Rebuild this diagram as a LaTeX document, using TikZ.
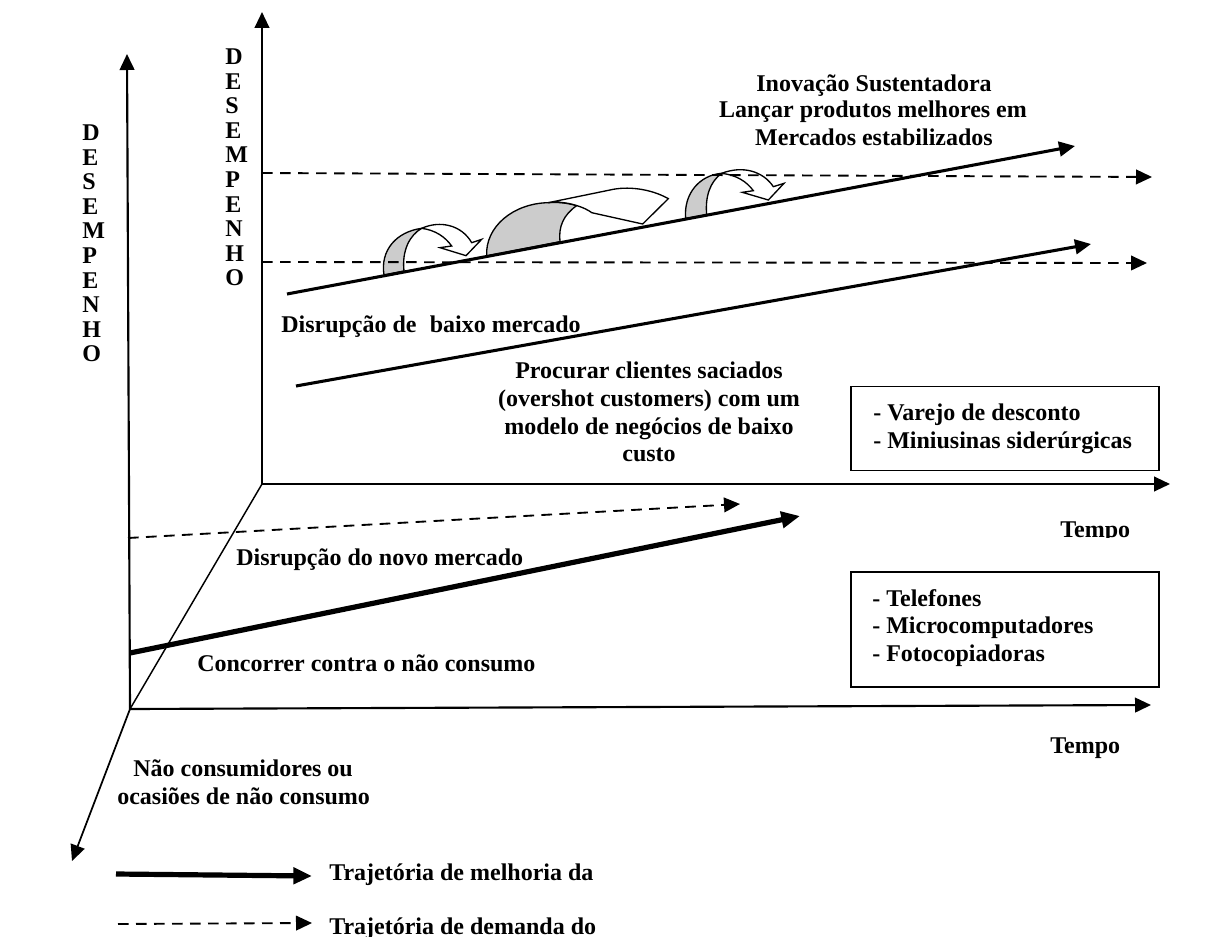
\documentclass[tikz,border=0pt]{standalone}
\usepackage{fontspec}
\setmainfont{Liberation Serif}
\usetikzlibrary{arrows.meta}
\tikzset{
  axisline/.style={line width=1.6pt,-{Triangle[length=12pt,width=11pt]}},
  thinline/.style={line width=1.1pt},
  sustline/.style={line width=2.3pt,-{Triangle[length=12pt,width=11pt]}},
  heavyline/.style={line width=3.9pt,-{Triangle[length=14pt,width=12pt]}},
  dashline/.style={line width=1.4pt,dash pattern=on 8pt off 5.5pt,-{Triangle[length=12pt,width=11pt]}},
  txt/.style={inner sep=0pt,font=\bfseries\fontsize{13pt}{14pt}\selectfont,text=black},
  lbl/.style={txt,anchor=base west},
  ctr/.style={txt,anchor=base},
  casebox/.style={draw=black,line width=1.2pt,fill=none,inner sep=0pt},
  bandshape/.style={draw=black,line width=1pt,fill=black!20},
  bendshape/.style={draw=black,line width=1pt,fill=white,line join=miter},
}
\newcommand{\cliplbl}[5]{\begin{scope}\clip (#2-20,#3-30) rectangle (#2+400,#4);\node[lbl] (#1) at (#2,#3) {#5};\end{scope}}
\begin{document}
\begin{tikzpicture}[x=0.75pt,y=-0.75pt]
\useasboundingbox (0,0) rectangle (1212,942);
\tikzset{txt/.append style={font=\bfseries\fontsize{18pt}{20pt}\selectfont}}
% named end points
\coordinate (oa) at (130,709);
\coordinate (ob) at (262,484);
\coordinate (oay) at (127,54);
\coordinate (oax) at (1151,705);
\coordinate (oaz) at (72,861);
\coordinate (oby) at (262,12);
\coordinate (obx) at (1170,484);
\coordinate (sa) at (287,294); \coordinate (sb) at (1075,146);
\coordinate (ta) at (296,386); \coordinate (tb) at (1091,244);
\coordinate (da) at (262,173); \coordinate (db) at (1152,177);
\coordinate (ea) at (262,262); \coordinate (eb) at (1147,263);
\coordinate (fa) at (128,538); \coordinate (fb) at (740,504);
\coordinate (ha) at (130,653); \coordinate (hb) at (800,516);
\coordinate (la) at (116,874); \coordinate (lb) at (312,876);
\coordinate (ma) at (118,924); \coordinate (mb) at (312,923);
% curved arrows
\begin{scope}[shift={(360,140)},x=0.25pt,y=-0.25pt]
 \path[bandshape] (72,405) .. controls (60,330) and (110,275) .. (185,265) .. controls (150,285) and (125,330) .. (132,393) -- cycle;
 \path[bendshape] (185,265) .. controls (240,240) and (305,255) .. (335,308) -- (365,298) -- (318,347) -- (240,323) -- (275,318) .. controls (255,290) and (225,270) .. (185,265) -- cycle;
 \path[bandshape] (380,348) .. controls (375,260) and (460,190) .. (565,188) .. controls (590,186) and (620,188) .. (650,197) .. controls (610,225) and (595,260) .. (600,305) -- cycle;
 \path[bendshape] (565,188) -- (750,150) .. controls (800,138) and (870,145) .. (925,176) -- (848,252) -- (695,218) .. controls (680,205) and (620,180) .. (565,188) -- cycle;
 \path[bandshape] (977,236) .. controls (970,160) and (1020,105) .. (1085,100) .. controls (1050,125) and (1035,170) .. (1040,224) -- cycle;
 \path[bendshape] (1085,100) .. controls (1150,75) and (1210,95) .. (1240,140) -- (1272,130) -- (1225,180) -- (1147,157) -- (1180,152) .. controls (1160,125) and (1130,105) .. (1085,100) -- cycle;
\end{scope}
% axes
\draw[axisline] (oa) -- (oay);
\draw[axisline] (oa) -- (oax);
\draw[axisline] (ob) -- (oby);
\draw[axisline] (ob) -- (obx);
\draw[thinline] (ob) -- (oa);
\draw[axisline,line width=1.3pt] (oa) -- (oaz);
% trajectories
\draw[dashline] (da) -- (db);
\draw[dashline] (ea) -- (eb);
\draw[dashline] (fa) -- (fb);
\draw[sustline] (sa) -- (sb);
\draw[sustline] (ta) -- (tb);
\draw[heavyline] (ha) -- (hb);
\draw[heavyline] (la) -- (lb);
\draw[dashline] (ma) -- (mb);
% boxes
\node[casebox,minimum width=231pt,minimum height=63pt] (boxa) at (1005,428.5) {};
\node[casebox,minimum width=231pt,minimum height=86pt] (boxb) at (1005,629.5) {};
% vertical words
\foreach \c [count=\i from 0] in {D,E,S,E,M,P,E,N,H,O} {
  \node[lbl] (la\i) at (82,{140.5+24.6*\i}) {\c};
  \node[lbl] (lb\i) at (225,{64.5+24.6*\i}) {\c};
}
% texts
\node[ctr] (t1) at (874,91) {Inovação Sustentadora};
\node[ctr] (t2) at (873,117) {Lançar produtos melhores em};
\node[ctr] (t3) at (874,145) {Mercados estabilizados};
\node[lbl] (t4) at (281,332) {Disrupção de\hspace{0.3em} baixo mercado};
\node[ctr] (t5) at (649,378) {Procurar clientes saciados};
\node[ctr] (t6) at (649,406) {(overshot customers) com um};
\node[ctr] (t7) at (649,434) {modelo de negócios de baixo};
\node[ctr] (t8) at (649,461) {custo};
\node[lbl] (t9) at (873,420) {- Varejo de desconto};
\node[lbl] (t10) at (873,448) {- Miniusinas siderúrgicas};
\cliplbl{t11}{1060}{537}{537}{Tempo}
\node[lbl] (t12) at (236,565) {Disrupção do novo mercado};
\cliplbl{t13}{197}{671}{671}{Concorrer contra o não consumo}
\node[lbl] (t14) at (872,606) {- Telefones};
\node[lbl] (t15) at (872,633) {- Microcomputadores};
\node[lbl] (t16) at (872,661) {- Fotocopiadoras};
\node[lbl] (t17) at (1050,753) {Tempo};
\node[lbl] (t18) at (133,776) {Não consumidores ou};
\cliplbl{t19}{117}{804}{804}{ocasiões de não consumo}
\node[lbl] (t20) at (329,880) {Trajetória de melhoria da};
\cliplbl{t21}{329}{934}{936}{Trajetória de demanda do}
\end{tikzpicture}
\end{document}
